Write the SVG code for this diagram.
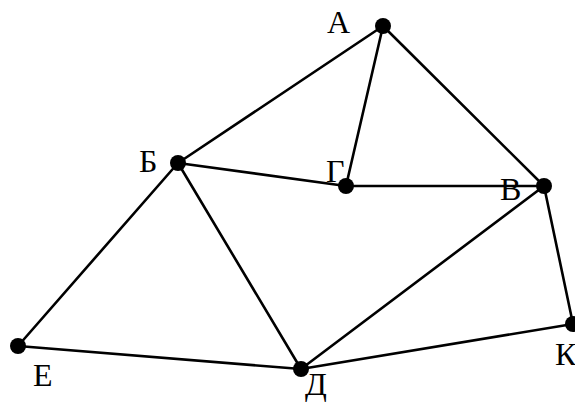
<svg xmlns="http://www.w3.org/2000/svg" width="575" height="403" viewBox="0 0 575 403">
<style>
.e{stroke:#000;stroke-width:2.6;fill:none;stroke-linecap:round}
.n{fill:#000}
.l{font-family:"Liberation Serif","Times New Roman",serif;font-size:32px;fill:#000}
</style>
<rect width="575" height="403" fill="#fff"/>
<g id="edges">
<line class="e" x1="383" y1="26" x2="178" y2="163"/>
<line class="e" x1="383" y1="26" x2="346" y2="186"/>
<line class="e" x1="383" y1="26" x2="544" y2="186"/>
<line class="e" x1="178" y1="163" x2="346" y2="186"/>
<line class="e" x1="346" y1="186" x2="544" y2="186"/>
<line class="e" x1="178" y1="163" x2="18" y2="346"/>
<line class="e" x1="178" y1="163" x2="301" y2="369"/>
<line class="e" x1="18" y1="346" x2="301" y2="369"/>
<line class="e" x1="301" y1="369" x2="544" y2="186"/>
<line class="e" x1="301" y1="369" x2="573" y2="324"/>
<line class="e" x1="544" y1="186" x2="573" y2="324"/>
</g>
<g id="nA"><circle class="n" cx="383" cy="26" r="8"/><text class="l" x="327" y="33">А</text></g>
<g id="nB"><circle class="n" cx="178" cy="163" r="8"/><text class="l" x="139" y="172">Б</text></g>
<g id="nG"><circle class="n" cx="346" cy="186" r="8"/><text class="l" x="326" y="182">Г</text></g>
<g id="nV"><circle class="n" cx="544" cy="186" r="8"/><text class="l" x="500" y="200">В</text></g>
<g id="nE"><circle class="n" cx="18" cy="346" r="8"/><text class="l" x="33" y="386">Е</text></g>
<g id="nD"><circle class="n" cx="301" cy="369" r="8"/><text class="l" x="305" y="395">Д</text></g>
<g id="nK"><circle class="n" cx="573" cy="324" r="8"/><text class="l" x="555" y="365">К</text></g>
</svg>
